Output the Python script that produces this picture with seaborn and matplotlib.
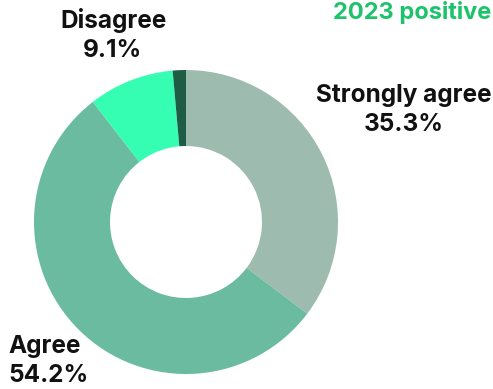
import matplotlib
matplotlib.use("Agg")
import matplotlib.pyplot as plt
import seaborn as sns

categories = ["Strongly agree", "Agree", "Disagree", "Strongly disagree"]
shares = [35.3, 54.2, 9.1, 1.4]
colors = ["#9dbbae", "#6bbba0", "#35fdb2", "#1f5c46"]
labelled = ["Strongly agree", "Agree", "Disagree"]
title = "2023 positive"

sns.set_theme(style="white")
plt.rcParams["font.family"] = ["Inter", "DejaVu Sans"]

W, H = 493, 389
fig = plt.figure(figsize=(W / 100, H / 100), dpi=100)
cx, cy, r = 186, 222, 152
ax = fig.add_axes([(cx - r) / W, (H - cy - r) / H, 2 * r / W, 2 * r / H])
ax.pie(shares, colors=colors, startangle=90, counterclock=False,
       radius=1.0, wedgeprops=dict(width=0.5, linewidth=0))
ax.set_xlim(-1, 1)
ax.set_ylim(-1, 1)
ax.set_aspect("equal")
ax.axis("off")

value = dict(zip(categories, shares))
label_pos = {
    "Strongly agree": (404, 110, "center"),
    "Disagree": (113, 35, "center"),
    "Agree": (8, 361, "left"),
}
for name in labelled:
    x, y, ha = label_pos[name]
    fig.text(x / W, 1 - y / H, f"{name}\n{value[name]:.1f}%", ha=ha, va="center",
             fontsize=17.5, fontweight="bold", color="#111111", linespacing=1.35,
             multialignment=ha)

fig.text(491 / W, 1 - 13 / H, title, ha="right", va="center",
         fontsize=17, fontweight="bold", color="#1dc36a")

fig.savefig("out.png", dpi=100)
